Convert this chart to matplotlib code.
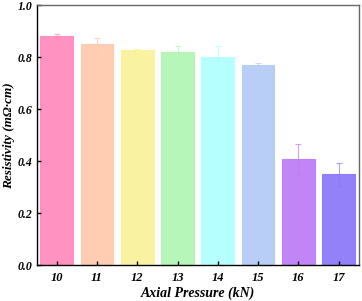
import numpy as np
import matplotlib
matplotlib.use("Agg")
import matplotlib.pyplot as plt

pressures = ["10", "11", "12", "13", "14", "15", "16", "17"]
resistivity = [0.882, 0.851, 0.829, 0.819, 0.800, 0.770, 0.409, 0.349]
errors = [0.007, 0.025, 0.003, 0.025, 0.042, 0.010, 0.057, 0.043]
colors = ["#FF8CBE", "#FFCBAD", "#F9F39C", "#B2F6B6", "#B2FFFF", "#B6CCF6", "#BE7EF6", "#8C7AF9"]

plt.rcParams["font.family"] = "Liberation Serif"
plt.rcParams["font.weight"] = "bold"
plt.rcParams["font.style"] = "italic"

fig = plt.figure(figsize=(3.62, 3.01), dpi=100)
ax = fig.add_axes([0.101, 0.1196, 0.89, 0.8624])

x = np.arange(len(pressures))
for i in range(len(x)):
    ax.bar(x[i], resistivity[i], width=0.81, color=colors[i], alpha=0.95,
           edgecolor=colors[i], linewidth=0.8)
    ax.errorbar(x[i], resistivity[i], yerr=errors[i], color=colors[i], alpha=0.7,
                capsize=2.5, elinewidth=0.8, capthick=0.8, fmt="none")

ax.set_xlim(-0.5, 7.5)
ax.set_ylim(0, 1.0)
ax.set_xticks(x)
ax.set_xticklabels(pressures)
ax.set_yticks([0.0, 0.2, 0.4, 0.6, 0.8, 1.0])
ax.tick_params(direction="in", length=3, width=1, labelsize=9, top=False, right=False)
ax.tick_params(axis="x", pad=5)
ax.tick_params(axis="y", pad=3, labelsize=8.5)
for s in ax.spines.values():
    s.set_linewidth(1)
ax.spines["top"].set_color("#666666")
ax.spines["right"].set_color("#666666")

ax.set_xlabel("Axial Pressure (kN)", fontsize=10, fontweight="bold", style="italic", labelpad=2)
ax.set_ylabel("Resistivity (m\u03a9\u00b7cm)", fontsize=9.5, fontweight="bold", style="italic", labelpad=2)

fig.savefig("out.png", dpi=100)
